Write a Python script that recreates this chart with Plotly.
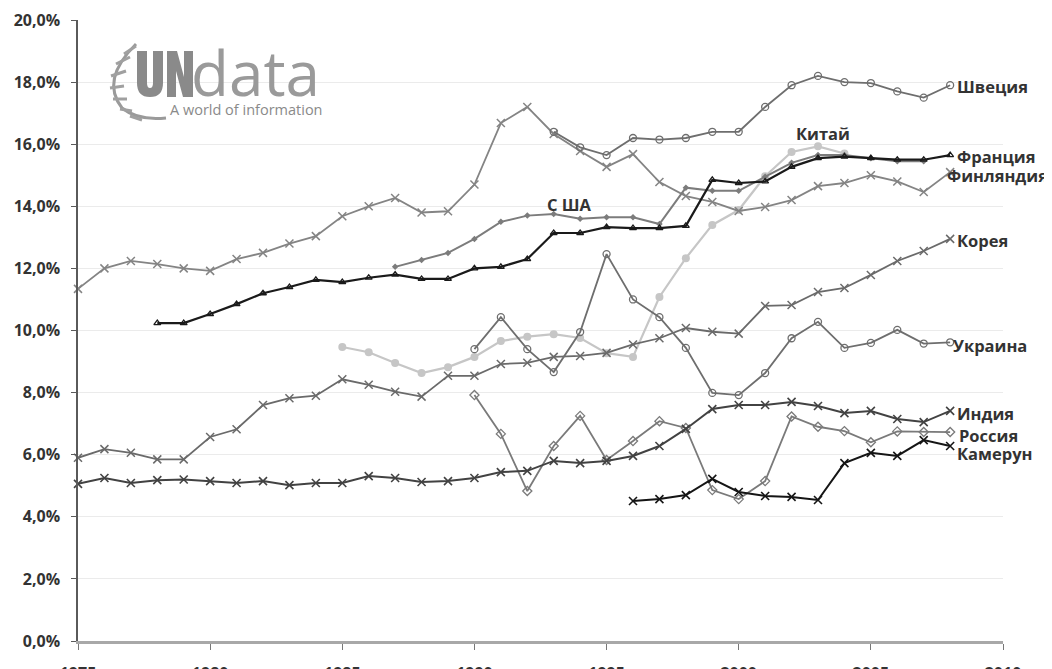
import plotly.graph_objects as go

# ---------------- data ----------------
years_finland = list(range(1975, 2009))
finland = [11.34, 12.0, 12.24, 12.14, 12.0, 11.92, 12.3, 12.5, 12.8, 13.04,
           13.68, 14.0, 14.27, 13.8, 13.84, 14.7, 16.68, 17.2, 16.33, 15.78,
           15.27, 15.68, 14.78, 14.33, 14.14, 13.85, 13.98, 14.2, 14.65, 14.75,
           15.0, 14.8, 14.46, 15.1]

years_sweden = list(range(1993, 2009))
sweden = [16.4, 15.9, 15.65, 16.2, 16.15, 16.2, 16.4, 16.4, 17.2, 17.9,
          18.2, 18.0, 17.97, 17.7, 17.5, 17.9]

years_france = list(range(1978, 2009))
france = [10.24, 10.24, 10.53, 10.85, 11.2, 11.4, 11.63, 11.56, 11.7, 11.8,
          11.66, 11.66, 12.0, 12.05, 12.3, 13.14, 13.14, 13.33, 13.3, 13.3,
          13.37, 14.85, 14.75, 14.8, 15.27, 15.55, 15.6, 15.55, 15.5, 15.5, 15.65]

years_usa = list(range(1987, 2008))
usa = [12.05, 12.27, 12.5, 12.95, 13.5, 13.7, 13.75, 13.6, 13.65, 13.65,
       13.43, 14.6, 14.5, 14.5, 14.95, 15.4, 15.65, 15.65, 15.55, 15.45, 15.45]

years_china = list(range(1985, 2005))
china = [9.47, 9.3, 8.95, 8.63, 8.82, 9.15, 9.66, 9.8, 9.88, 9.76,
         9.27, 9.15, 11.08, 12.33, 13.4, 13.88, 14.97, 15.75, 15.93, 15.7]

years_korea = list(range(1975, 2009))
korea = [5.9, 6.18, 6.06, 5.85, 5.85, 6.57, 6.82, 7.6, 7.82, 7.9,
         8.43, 8.25, 8.03, 7.87, 8.54, 8.54, 8.92, 8.96, 9.15, 9.18,
         9.28, 9.55, 9.75, 10.08, 9.96, 9.9, 10.79, 10.82, 11.24, 11.37,
         11.79, 12.24, 12.56, 12.95]

years_ukraine = list(range(1990, 2009))
ukraine = [9.4, 10.43, 9.4, 8.66, 9.95, 12.46, 11.0, 10.43, 9.44, 7.99,
           7.92, 8.63, 9.75, 10.28, 9.44, 9.6, 10.02, 9.58, 9.62]

years_russia = list(range(1990, 2009))
russia = [7.92, 6.67, 4.83, 6.28, 7.25, 5.83, 6.44, 7.08, 6.86, 4.86,
          4.57, 5.15, 7.23, 6.9, 6.76, 6.4, 6.75, 6.73, 6.73]

years_india = list(range(1975, 2009))
india = [5.06, 5.25, 5.09, 5.18, 5.2, 5.15, 5.09, 5.15, 5.02, 5.09,
         5.09, 5.31, 5.25, 5.12, 5.15, 5.25, 5.44, 5.48, 5.8, 5.73,
         5.8, 5.96, 6.28, 6.83, 7.47, 7.6, 7.6, 7.7, 7.57, 7.34,
         7.41, 7.15, 7.05, 7.41]

years_cameroon = list(range(1996, 2009))
cameroon = [4.51, 4.57, 4.7, 5.22, 4.8, 4.67, 4.64, 4.54, 5.73, 6.06,
            5.96, 6.47, 6.28]

y_tickvals = [0, 2, 4, 6, 8, 10, 12, 14, 16, 18, 20]
y_ticktext = ["0,0%", "2,0%", "4,0%", "6,0%", "8,0%", "10,0%", "12,0%",
              "14,0%", "16,0%", "18,0%", "20,0%"]
x_tickvals = [1975, 1980, 1985, 1990, 1995, 2000, 2005, 2010]
x_ticktext = ["1975", "1980", "1985", "1990", "1995", "2000", "2005", "2010"]

# ---------------- figure ----------------
W, H = 1052, 669
OFF = 8  # page body margin
ML, MR, MT, MB = 70, 57, 12, 36

fig = go.Figure()


def add(x, y, color, symbol, msize, lw, mcolor=None, mline=1.2, fill=None):
    fig.add_trace(go.Scatter(
        x=x, y=y, mode="lines+markers", showlegend=False, hoverinfo="skip",
        line=dict(color=color, width=lw),
        marker=dict(symbol=symbol, size=msize,
                    color=fill if fill is not None else (mcolor or color),
                    line=dict(color=mcolor or color, width=mline)),
        cliponaxis=False,
    ))


add(years_china, china, "#c6c6c6", "circle", 8, 2.2, fill="#c6c6c6", mline=0)
add(years_finland, finland, "#848484", "x-thin", 8, 1.8, mline=1.5)
add(years_sweden, sweden, "#6e6e6e", "circle-open", 7, 1.8, mline=1.3)
add(years_usa, usa, "#7c7c7c", "diamond", 5, 2.0, mline=0)
add(years_korea, korea, "#6a6a6a", "x-thin", 8, 1.8, mline=1.5)
add(years_ukraine, ukraine, "#6e6e6e", "circle-open", 7, 1.8, mline=1.3)
add(years_russia, russia, "#7a7a7a", "diamond-open", 7, 1.8, mline=1.3)
add(years_india, india, "#424242", "x-thin", 8, 2.0, mline=1.6)
add(years_cameroon, cameroon, "#151515", "x-thin", 8, 2.0, mline=1.6)
add(years_france, france, "#1a1a1a", "triangle-up-open", 6, 2.2, mline=1.3)

label_font = dict(family="Open Sans, DejaVu Sans, sans-serif", size=16.5, color="#333333")
right_labels = [
    ("Швеция", years_sweden[-1], sweden[-1], 0.2, -0.05),
    ("Франция", years_france[-1], france[-1], 0.2, -0.05),
    ("Финляндия", years_finland[-1], finland[-1], -0.2, -0.1),
    ("Корея", years_korea[-1], korea[-1], 0.2, -0.05),
    ("Украина", years_ukraine[-1], ukraine[-1], 0.05, -0.1),
    ("Индия", years_india[-1], india[-1], 0.2, -0.07),
    ("Россия", years_russia[-1], russia[-1], 0.25, -0.1),
    ("Камерун", years_cameroon[-1], cameroon[-1], 0.2, -0.23),
]
for txt, xv, yv, dx, dy in right_labels:
    fig.add_annotation(x=xv + dx, y=yv + dy, text="<b>" + txt + "</b>",
                       xanchor="left", yanchor="middle", showarrow=False,
                       font=label_font)

fig.add_annotation(x=2003.2, y=16.35, text="<b>Китай</b>", showarrow=False,
                   xanchor="center", yanchor="middle", font=label_font)
fig.add_annotation(x=1993.6, y=14.05, text="<b>С ША</b>", showarrow=False,
                   xanchor="center", yanchor="middle", font=label_font)


# ---------------- logo (decoration), page-pixel helpers ----------------
def px(p):
    return (p - OFF - ML) / (W - ML - MR)


def py(p):
    return (H - MB - (p - OFF)) / (H - MT - MB)


def P(x, y):
    return f"{px(x)},{py(y)}"


logo_col = "#8a8a8a"
# "U"
fig.add_shape(type="path", xref="paper", yref="paper",
              path=(f"M {P(137,51)} L {P(147,51)} L {P(147,83)} Q {P(147,88)} {P(150,88)} "
                    f"Q {P(153,88)} {P(153,83)} L {P(153,51)} L {P(163,51)} L {P(163,83)} "
                    f"Q {P(163,97)} {P(150,97)} Q {P(137,97)} {P(137,83)} Z"),
              fillcolor=logo_col, line=dict(width=0))
# "N"
fig.add_shape(type="path", xref="paper", yref="paper",
              path=(f"M {P(167,97)} L {P(167,51)} L {P(177,51)} L {P(184,77)} L {P(184,51)} "
                    f"L {P(193,51)} L {P(193,97)} L {P(183,97)} L {P(176,71)} L {P(176,97)} Z"),
              fillcolor=logo_col, line=dict(width=0))
fig.add_annotation(xref="paper", yref="paper", x=px(189), y=py(116),
                   text="data", showarrow=False, xanchor="left", yanchor="bottom",
                   font=dict(family="Open Sans, sans-serif", size=62, color="#9a9a9a"))
fig.add_annotation(xref="paper", yref="paper", x=px(168), y=py(110),
                   text="A world of information", showarrow=False, xanchor="left", yanchor="middle",
                   font=dict(family="Open Sans, sans-serif", size=14.5, color="#8a8a8a"))
# wreath stem
fig.add_shape(type="path", xref="paper", yref="paper",
              path=f"M {P(136,44)} Q {P(100,80)} {P(122,108)} Q {P(138,121)} {P(166,118)}",
              line=dict(color="#9a9a9a", width=3))
for (x0, y0, x1, y1) in [(124, 54, 136, 46), (116, 64, 130, 57), (111, 76, 126, 71),
                         (110, 88, 124, 86), (113, 99, 127, 99), (120, 109, 132, 111),
                         (130, 116, 142, 120)]:
    fig.add_shape(type="line", xref="paper", yref="paper",
                  x0=px(x0), y0=py(y0), x1=px(x1), y1=py(y1),
                  line=dict(color="#a0a0a0", width=3))

fig.update_layout(
    width=W, height=H,
    margin=dict(l=ML, r=MR, t=MT, b=MB, autoexpand=False),
    paper_bgcolor="white", plot_bgcolor="white",
    showlegend=False,
)
fig.update_xaxes(
    range=[1975, 2010], tickvals=x_tickvals, ticktext=x_ticktext,
    showgrid=False, zeroline=False,
    showline=True, linecolor="#a8a8a8", linewidth=3,
    ticks="outside", ticklen=6, tickcolor="#777777", tickwidth=1.2,
    ticklabelstandoff=10,
    tickfont=dict(family="Open Sans, sans-serif", size=16, color="#333333", weight="bold"),
    fixedrange=True,
)
fig.update_yaxes(
    range=[0, 20], tickvals=y_tickvals, ticktext=y_ticktext,
    showgrid=True, gridcolor="#ebebeb", gridwidth=1, zeroline=False,
    showline=True, linecolor="#5a5a5a", linewidth=1.5,
    ticks="outside", ticklen=5, tickcolor="#5a5a5a", tickwidth=1.2,
    ticklabelstandoff=8,
    tickfont=dict(family="Open Sans, sans-serif", size=16, color="#333333", weight="bold"),
    fixedrange=True,
)

fig.write_html("out.html")
